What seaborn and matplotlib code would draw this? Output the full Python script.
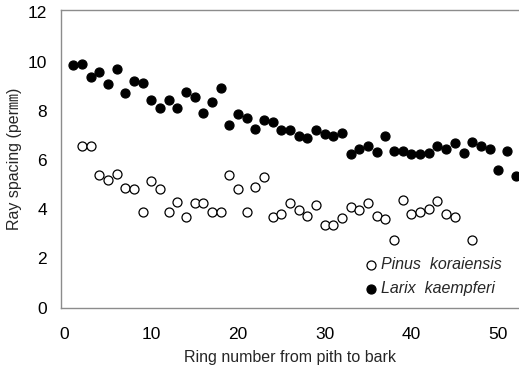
import seaborn as sns
import matplotlib.pyplot as plt
import pandas as pd

# ring number from pith to bark
larix_ring = list(range(1, 53))
larix_spacing = [
    9.86, 9.91, 9.36, 9.57, 9.10, 9.72, 8.73, 9.21, 9.13, 8.42,
    8.10, 8.42, 8.12, 8.76, 8.56, 7.91, 8.34, 8.91, 7.41, 7.88,
    7.70, 7.28, 7.61, 7.54, 7.20, 7.20, 6.97, 6.88, 7.22, 7.07,
    6.97, 7.09, 6.26, 6.43, 6.58, 6.33, 6.97, 6.37, 6.37, 6.23,
    6.23, 6.29, 6.58, 6.44, 6.70, 6.27, 6.72, 6.57, 6.46, 5.58,
    6.37, 5.36,
]

pinus_ring = list(range(2, 46)) + [47]
pinus_spacing = [
    6.56, 6.56, 5.37, 5.18, 5.43, 4.85, 4.82, 3.88, 5.14, 4.83,
    3.88, 4.30, 3.69, 4.25, 4.25, 3.88, 3.88, 5.40, 4.82, 3.88,
    4.89, 5.30, 3.67, 3.79, 4.25, 3.95, 3.73, 4.15, 3.35, 3.35,
    3.64, 4.10, 3.96, 4.25, 3.73, 3.58, 2.74, 4.37, 3.80, 3.87,
    3.99, 4.32, 3.80, 3.68, 2.74,
]

df_pinus = pd.DataFrame({"ring": pinus_ring, "spacing": pinus_spacing})
df_larix = pd.DataFrame({"ring": larix_ring, "spacing": larix_spacing})

sns.set_style("white")
plt.rcParams["font.family"] = ["Liberation Sans", "Noto Sans CJK KR", "DejaVu Sans"]

fig = plt.figure(figsize=(5.19, 3.70), dpi=100)
ax = fig.add_axes([61 / 519, 62.5 / 370, 458 / 519, 297.5 / 370])

sns.scatterplot(
    data=df_pinus, x="ring", y="spacing", ax=ax,
    marker="o", s=42, facecolor="white", edgecolor="black", linewidth=0.9,
    label="Pinus  koraiensis",
)
sns.scatterplot(
    data=df_larix, x="ring", y="spacing", ax=ax,
    marker="o", s=42, color="black", edgecolor="black", linewidth=0.9,
    label="Larix  kaempferi",
)

ax.set_xlim(-0.42, 52.4)
ax.set_ylim(0, 12.1)
ax.set_xticks(range(0, 60, 10))
ax.set_yticks(range(0, 14, 2))

for side in ["left", "bottom", "top"]:
    ax.spines[side].set_color("#8c8c8c")
    ax.spines[side].set_linewidth(1)
ax.spines["right"].set_visible(False)

ax.tick_params(axis="both", direction="in", length=4, color="#d0d0d0",
               labelsize=12.5, colors="black")
ax.tick_params(axis="x", pad=14)
ax.tick_params(axis="y", pad=10)
for t in ax.get_xticklabels() + ax.get_yticklabels():
    t.set_color("black")

ax.set_xlabel("Ring number from pith to bark", fontsize=11.5, labelpad=6)
ax.set_ylabel("Ray spacing (per\u339c)", fontsize=11.5, labelpad=4)

leg = ax.legend(
    loc="center left", bbox_to_anchor=(0.645, 0.104), frameon=False,
    prop={"style": "italic", "size": 11.5}, handlelength=1.0,
    handletextpad=0.15, labelspacing=0.6, borderaxespad=0,
)

fig.savefig("out.png", dpi=100)
